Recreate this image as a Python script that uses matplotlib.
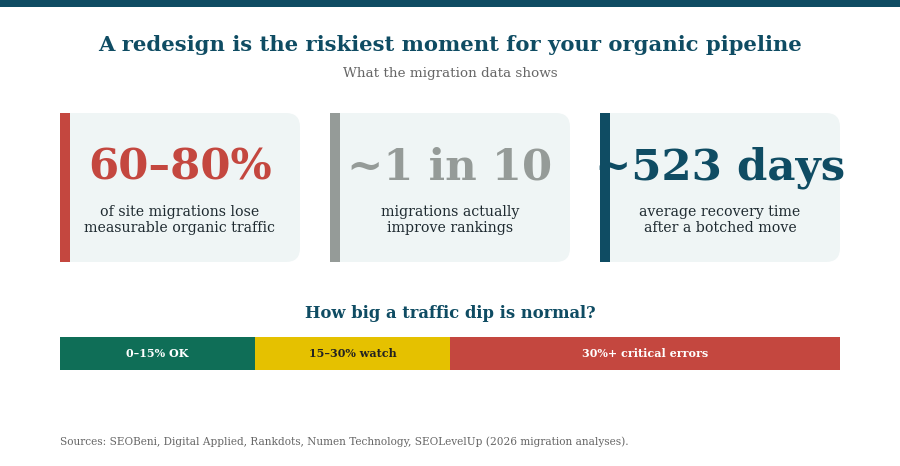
import matplotlib
matplotlib.use("Agg")
import matplotlib.pyplot as plt
from matplotlib.patches import FancyBboxPatch, Rectangle

plt.rcParams["font.family"] = ["DejaVu Serif"]

TEAL = "#0f4c63"
RED = "#c4473f"
GRAY = "#959b98"
CARD_BG = "#eff5f5"

TITLE = "A redesign is the riskiest moment for your organic pipeline"
SUBTITLE = "What the migration data shows"

stat_values = ["60\u201380%", "~1 in 10", "~523 days"]
stat_labels = ["of site migrations lose\nmeasurable organic traffic",
               "migrations actually\nimprove rankings",
               "average recovery time\nafter a botched move"]
stat_colors = [RED, GRAY, TEAL]

dip_labels = ["0\u201315% OK", "15\u201330% watch", "30%+ critical errors"]
dip_widths = [15, 15, 30]
dip_colors = ["#0f6e57", "#e5c100", RED]
dip_text_colors = ["white", "#222222", "white"]

SOURCE = ("Sources: SEOBeni, Digital Applied, Rankdots, Numen Technology, "
          "SEOLevelUp (2026 migration analyses).")

W, H = 900, 466
fig = plt.figure(figsize=(W / 100, H / 100), dpi=100)
fig.patch.set_facecolor("white")

# pixel-coordinate overlay
ax = fig.add_axes([0, 0, 1, 1])
ax.set_xlim(0, W)
ax.set_ylim(H, 0)
ax.axis("off")

ax.add_patch(Rectangle((0, 0), W, 7, color=TEAL, lw=0))
ax.text(450, 45, TITLE, ha="center", va="center", fontsize=15.2,
        fontweight="bold", color=TEAL)
ax.text(450, 73, SUBTITLE, ha="center", va="center", fontsize=9.7,
        color="#666666")

card_x = [60, 330, 600]
card_w, card_top, card_h = 240, 113, 149
for x0, val, lab, col in zip(card_x, stat_values, stat_labels, stat_colors):
    ax.add_patch(FancyBboxPatch((x0, card_top), card_w, card_h,
                                boxstyle="round,pad=0,rounding_size=14",
                                fc=CARD_BG, ec="none"))
    # square off the left side under the accent
    ax.add_patch(Rectangle((x0, card_top), 30, card_h, fc=CARD_BG, ec="none"))
    ax.add_patch(Rectangle((x0, card_top), 10, card_h, fc=col, ec="none"))
    ax.text(x0 + 120, 168, val, ha="center", va="center", fontsize=31.2,
            fontweight="bold", color=col)
    ax.text(x0 + 120, 220, lab, ha="center", va="center", fontsize=10.2,
            color="#1e2a30", linespacing=1.2)

ax.text(450, 313, "How big a traffic dip is normal?", ha="center",
        va="center", fontsize=11.8, fontweight="bold", color=TEAL)

ax.text(60, 442, SOURCE, ha="left", va="center", fontsize=7.6,
        color="#666666")

# stacked threshold bar
bax = fig.add_axes([60 / W, 1 - 370 / H, 780 / W, 33 / H])
left = 0
for lab, w, col, tc in zip(dip_labels, dip_widths, dip_colors, dip_text_colors):
    bax.barh(0, w, left=left, height=1, color=col, lw=0)
    bax.text(left + w / 2, 0, lab, ha="center", va="center", fontsize=8,
             fontweight="bold", color=tc)
    left += w
bax.set_xlim(0, sum(dip_widths))
bax.set_ylim(-0.5, 0.5)
bax.axis("off")

fig.savefig("out.png", dpi=100, facecolor="white")
